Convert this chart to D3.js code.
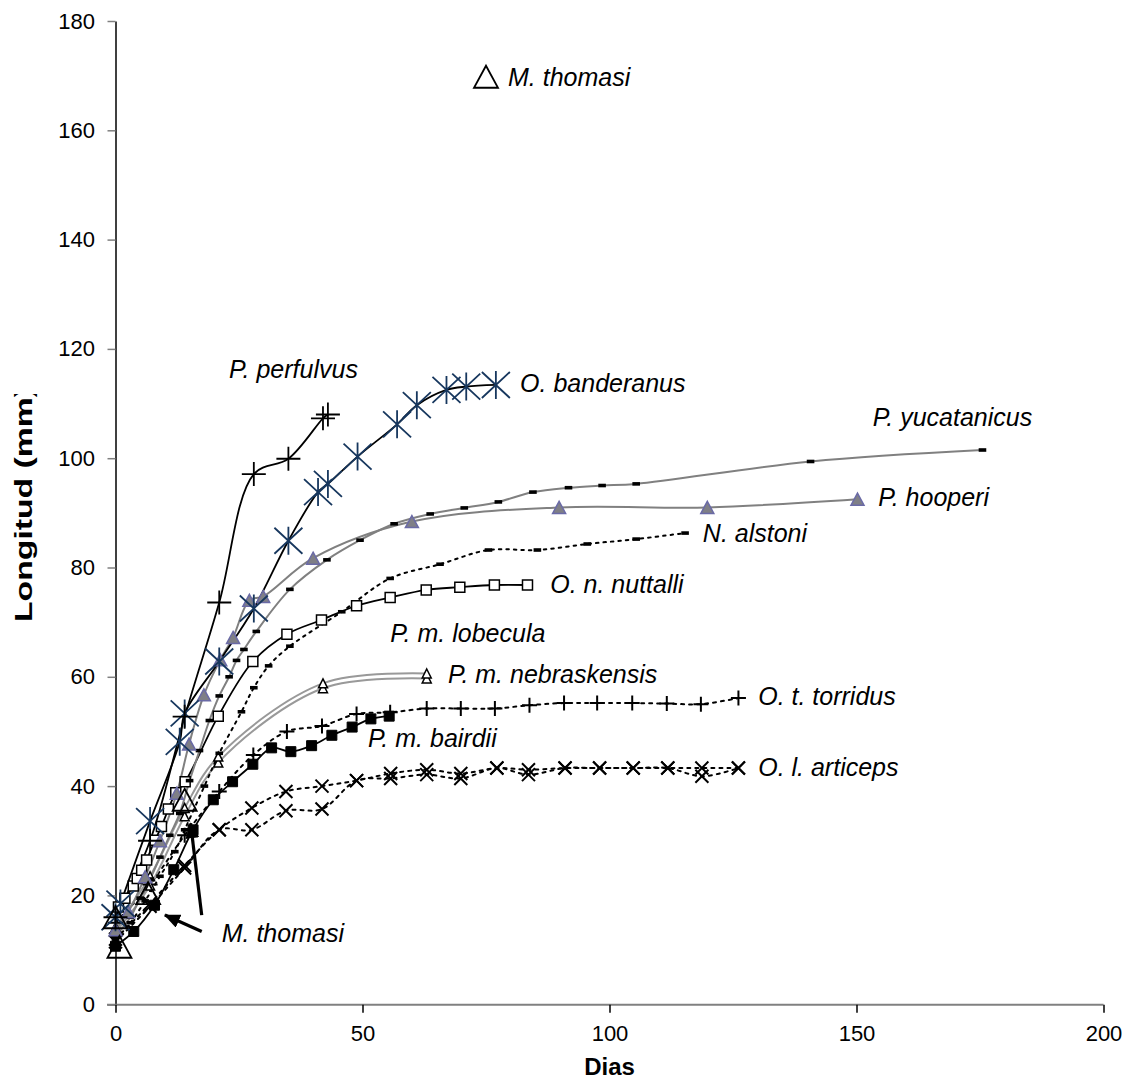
<!DOCTYPE html>
<html>
<head>
<meta charset="utf-8">
<script src="https://cdn.jsdelivr.net/npm/d3@7/dist/d3.min.js"></script>
<style>
  html, body { margin: 0; padding: 0; background: #fff; }
  svg { display: block; }
  text { font-family: "Liberation Sans", Arial, sans-serif; }
</style>
</head>
<body>
<svg id="chart" width="1133" height="1080"></svg>
<script>
// Growth in length (mm) against age (days) for several rodent taxa.
// Each series is a list of [day, length] pairs.
const perfulvus    = [[0,16],[7,30],[14,52.7],[21,73.6],[28,97.1],[35,99.9],[42,107.3],[43,108]];
const banderanus   = [[0,16],[1,18.5],[7,33.6],[13,48.1],[14,53.3],[21,62.8],[28,72.5],[35,84.9],[41,93.8],[43,95.3],[49,100.3],[57,106.2],[61,109.7],[67,112.5],[71,113.1],[77,113.4]];
const yucatanicus  = [[0,12.5],[3,16],[5,19.5],[7,23],[9,27],[11,31],[13,35],[15,41],[17,46.5],[19,52],[21,56.5],[23,60],[24.5,63],[26,65],[28.5,68.3],[35.3,76],[42.8,81.4],[49.5,85],[56.4,88],[63.7,89.8],[70.6,90.9],[77.5,92],[84.5,93.8],[91.7,94.6],[98.5,95],[105.4,95.3],[140.7,99.4],[175.5,101.5]];
const hooperi      = [[0,13.7],[2.6,17],[6,23.4],[9,30],[12.4,38.7],[14.9,47.7],[17.9,56.7],[21.2,63.1],[23.8,67.2],[27.1,74],[29.9,74.7],[40,81.7],[60,88.4],[89.8,91],[119.8,91],[150.2,92.5]];
const alstoni      = [[0,12],[3,15],[6,19],[9,23.5],[12,28],[14,32],[18,40],[21,46],[25.5,53.6],[28,58],[31,62],[35.3,65.6],[45.8,71.9],[55.6,78],[65.7,80.6],[75.5,83.2],[85.4,83.2],[95.5,84.3],[105.4,85.2],[115.3,86.3]];
const nuttalli     = [[0.6,17.9],[1.9,19.5],[3.6,21.7],[4.4,23.1],[5.3,24.6],[6.3,26.5],[8,30.1],[9.3,32.6],[10.7,35.8],[12.2,38.8],[14.1,40.8],[20.8,52.8],[27.8,62.8],[34.7,67.8],[41.7,70.4],[48.8,73],[55.6,74.5],[62.9,75.9],[69.7,76.4],[76.7,76.8],[83.4,76.8]];
const lobecula     = [[0,14.2],[7,23.5],[14,36],[20.8,45.4],[42,58.8],[63,60.6]];
const nebraskensis = [[0,13.2],[7,21.8],[14,34.5],[20.8,44.3],[42,57.9],[63,59.7]];
const torridus     = [[0,15],[7,22],[14,31],[21,39],[27.9,45.7],[34.7,50],[41.8,51],[48.8,53.2],[55.6,53.5],[63,54.2],[69.9,54.2],[76.8,54.2],[83.8,54.8],[90.8,55.2],[97.5,55.2],[104.6,55.2],[111.6,55.1],[118.5,55],[126.1,56.1]];
const bairdii      = [[0,10.7],[3.7,13.4],[7.9,18.2],[11.8,24.7],[15.7,32],[19.8,37.5],[23.7,40.8],[27.8,44],[31.6,47],[35.5,46.3],[39.7,47.4],[43.8,49.3],[47.9,50.8],[51.7,52.3],[55.4,52.8]];
const articeps     = [[0,12],[7,18.5],[14,25.5],[21,32],[27.6,36],[34.5,39],[41.8,40],[48.8,41],[55.7,42.3],[63,43],[69.9,42.3],[77.2,43.3],[83.6,43],[91,43.3],[98,43.3],[104.8,43.3],[111.8,43.3],[118.7,43.3],[126.1,43.3]];
const articeps2    = [[0,11.5],[7,18],[14,25],[21,32],[27.6,32],[34.5,35.5],[41.8,35.8],[48.8,41],[55.7,41.4],[63,42.1],[69.9,41.4],[77.2,43.3],[83.6,42.1],[91,43.3],[98,43.3],[104.8,43.3],[111.8,43.3],[118.7,41.8],[126.1,43.3]];
const thomasi      = [[0,16],[0.8,10.6],[6.6,20.4],[14,37.5]];
const thomasiKey   = [[75,169.8]];

// Axis ticks
const xTicks = [0, 50, 100, 150, 200];
const yTicks = [0, 20, 40, 60, 80, 100, 120, 140, 160, 180];

// Series labels: text with the day / length of its baseline start
const labelText = ["M. thomasi","P. perfulvus","O. banderanus","P. yucatanicus","P. hooperi","N. alstoni","O. n. nuttalli","P. m. lobecula","P. m. nebraskensis","O. t. torridus","P. m. bairdii","O. l. articeps","M. thomasi"];
const labelDay  = [79.45, 23.0, 81.9, 153.3, 154.4, 118.9, 88.0, 55.6, 67.3, 130.1, 51.1, 130.1, 21.5];
const labelMm   = [168.1, 114.6, 112.1, 105.9, 91.3, 84.7, 75.4, 66.4, 58.8, 54.8, 47.1, 41.9, 11.5];

// Arrows pointing from the lower M. thomasi label to its markers: [fromDay, fromMm, toDay, toMm]
const arrows = [[17.45, 16.4, 15.2, 33.2], [17.45, 13.4, 10.0, 16.4]];

const svg = d3.select("#chart");
const x = d3.scaleLinear().domain([0, 200]).range([115.5, 1103.5]);
const y = d3.scaleLinear().domain([0, 180]).range([1004.7, 21]);

// ---- axes ----
const yAxis = d3.axisLeft(y).tickValues(yTicks).tickSize(8).tickSizeOuter(0).tickPadding(12.5);
const gy = svg.append("g").attr("transform", `translate(${x(0)},0)`).call(yAxis);
gy.select(".domain").attr("stroke", "#000").attr("stroke-width", 1.5);
gy.selectAll(".tick line").attr("stroke", "#808080").attr("stroke-width", 1.5);
gy.selectAll(".tick text").attr("font-size", 22).attr("fill", "#000")
  .style("font-family", '"Liberation Sans", Arial, sans-serif');

// x baseline (gray, running slightly past the y axis)
svg.append("line")
  .attr("x1", x(0) - 8.5).attr("x2", x(200))
  .attr("y1", y(0)).attr("y2", y(0))
  .attr("stroke", "#808080").attr("stroke-width", 2);

const xAxis = d3.axisBottom(x).tickValues(xTicks).tickSize(8).tickSizeOuter(0).tickPadding(13);
const gx = svg.append("g").attr("transform", `translate(0,${y(0)})`).call(xAxis);
gx.select(".domain").remove();
gx.selectAll(".tick line").attr("stroke", "#000").attr("stroke-width", 1.5);
gx.selectAll(".tick text").attr("font-size", 22).attr("fill", "#000")
  .style("font-family", '"Liberation Sans", Arial, sans-serif');

// axis titles
svg.append("text")
  .attr("x", x(100)).attr("y", 1075)
  .attr("text-anchor", "middle")
  .attr("font-size", 24).attr("font-weight", "bold")
  .text("Dias");

svg.append("clipPath").attr("id", "ytitle-clip")
  .append("rect").attr("x", 0).attr("y", 394).attr("width", 70).attr("height", 400);
svg.append("g").attr("clip-path", "url(#ytitle-clip)")
  .append("text")
  .attr("transform", "translate(32,622) rotate(-90)")
  .attr("font-size", 24).attr("font-weight", "bold")
  .attr("textLength", 236).attr("lengthAdjust", "spacingAndGlyphs")
  .text("Longitud (mm)");

// ---- marker shapes ----
function tri(w, h) { return `M0,${-h/2}L${w/2},${h/2}L${-w/2},${h/2}Z`; }
const shapes = {
  plusBig:  `M-12,0H12M0,-12V12`,
  plusSm:   `M-7.5,0H7.5M0,-7.5V7.5`,
  asterisk: `M0,-14V14M-14,-13L14,13M-14,13L14,-13`,
  cross:    `M-6.5,-6.5L6.5,6.5M-6.5,6.5L6.5,-6.5`,
  square:   `M-5,-5H5V5H-5Z`,
  dash:     `M-3.8,-1.8H3.8V1.8H-3.8Z`,
  triMid:   tri(13, 12),
  triSmall: tri(9, 9),
  triBig:   tri(24, 22)
};

const smooth = d3.line().x(d => x(d[0])).y(d => y(d[1])).curve(d3.curveCatmullRom.alpha(0.5));

const series = [
  { data: articeps2,   line: "#000", lw: 2, dash: "3,5", marker: "cross",    mfill: "none", mstroke: "#000", msw: 2 },
  { data: articeps,    line: "#000", lw: 2, dash: "3,5", marker: "cross",    mfill: "none", mstroke: "#000", msw: 2 },
  { data: torridus,    line: "#000", lw: 2, dash: "3,5", marker: "plusSm",   mfill: "none", mstroke: "#000", msw: 2 },
  { data: nebraskensis,line: "#999", lw: 2, dash: null,  marker: "triSmall", mfill: "#fff", mstroke: "#000", msw: 1.5 },
  { data: lobecula,    line: "#999", lw: 2, dash: null,  marker: "triSmall", mfill: "#fff", mstroke: "#000", msw: 1.5 },
  { data: bairdii,     line: "#000", lw: 1.8, dash: null, marker: "square",  mfill: "#000", mstroke: "#000", msw: 1 },
  { data: alstoni,     line: "#000", lw: 2, dash: "2.5,5", marker: "dash",   mfill: "#000", mstroke: "none", msw: 0 },
  { data: nuttalli,    line: "#000", lw: 1.8, dash: null, marker: "square",  mfill: "#fff", mstroke: "#000", msw: 1.5 },
  { data: yucatanicus, line: "#808080", lw: 2, dash: null, marker: "dash",   mfill: "#000", mstroke: "none", msw: 0 },
  { data: hooperi,     line: "#808080", lw: 2, dash: null, marker: "triMid", mfill: "#7f7f86", mstroke: "#6a6aa6", msw: 1.5 },
  { data: banderanus,  line: "#000", lw: 1.8, dash: null, marker: "asterisk", mfill: "none", mstroke: "#17375e", msw: 1.8 },
  { data: perfulvus,   line: "#000", lw: 1.8, dash: null, marker: "plusBig", mfill: "none", mstroke: "#000", msw: 1.8 },
  { data: thomasi,     line: null,   lw: 0, dash: null,  marker: "triBig",   mfill: "none", mstroke: "#000", msw: 1.8 }
];

const plot = svg.append("g");
series.forEach(s => {
  if (s.line) {
    plot.append("path")
      .attr("d", smooth(s.data))
      .attr("fill", "none")
      .attr("stroke", s.line)
      .attr("stroke-width", s.lw)
      .attr("stroke-dasharray", s.dash)
      .attr("stroke-linecap", s.dash ? "round" : "butt");
  }
});
series.forEach(s => {
  plot.append("g").selectAll("path")
    .data(s.data).join("path")
    .attr("transform", d => `translate(${x(d[0])},${y(d[1])})`)
    .attr("d", shapes[s.marker])
    .attr("fill", s.mfill)
    .attr("stroke", s.mstroke)
    .attr("stroke-width", s.msw);
});

// key marker next to the upper M. thomasi label
plot.append("g").selectAll("path")
  .data(thomasiKey).join("path")
  .attr("transform", d => `translate(${x(d[0])},${y(d[1])})`)
  .attr("d", shapes.triBig)
  .attr("fill", "none").attr("stroke", "#000").attr("stroke-width", 1.8);

// ---- arrows ----
const defs = svg.append("defs");
defs.append("marker")
  .attr("id", "arrowhead")
  .attr("markerUnits", "userSpaceOnUse")
  .attr("viewBox", "0 0 16 14")
  .attr("refX", 15).attr("refY", 7)
  .attr("markerWidth", 16).attr("markerHeight", 14)
  .attr("orient", "auto")
  .append("path").attr("d", "M0,0L16,7L0,14Z").attr("fill", "#000");

svg.append("g").selectAll("line")
  .data(arrows).join("line")
  .attr("x1", d => x(d[0])).attr("y1", d => y(d[1]))
  .attr("x2", d => x(d[2])).attr("y2", d => y(d[3]))
  .attr("stroke", "#000").attr("stroke-width", 3.2)
  .attr("marker-end", "url(#arrowhead)");

// ---- series labels ----
svg.append("g").selectAll("text")
  .data(labelText).join("text")
  .attr("x", (d, i) => x(labelDay[i]))
  .attr("y", (d, i) => y(labelMm[i]))
  .attr("font-size", 25)
  .attr("font-style", "italic")
  .attr("fill", "#000")
  .text(d => d);
</script>
</body>
</html>
